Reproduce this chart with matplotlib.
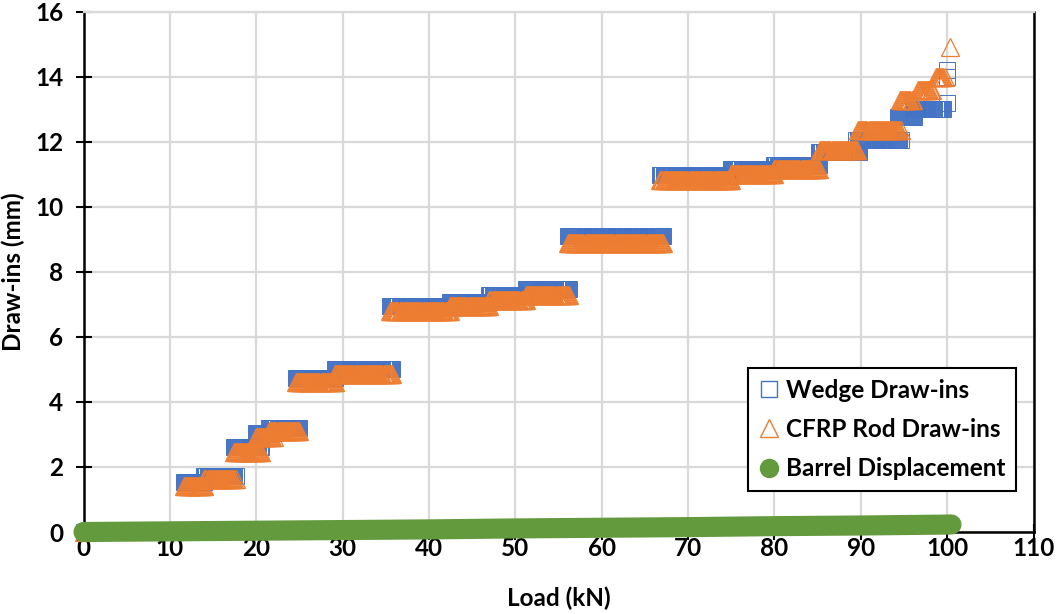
import numpy as np
import matplotlib
matplotlib.use("Agg")
import matplotlib.pyplot as plt
from matplotlib.lines import Line2D

plt.rcParams['font.family'] = ['Lato', 'DejaVu Sans']
plt.rcParams['font.weight'] = 'bold'

# step plateaus: load start (kN), load end (kN), draw-in (mm)
wedge_start = [0.0, 11.6, 14.0, 17.4, 20.0, 21.5, 24.6, 29.1, 35.5, 42.4, 47.0, 51.2,
               56.1, 66.8, 75.0, 80.0, 85.2, 89.5, 94.3, 96.0, 100.0, 100.0, 100.0]
wedge_end = [0.0, 14.0, 17.6, 20.5, 22.0, 25.0, 29.1, 35.7, 42.4, 47.0, 51.2, 56.2,
             67.1, 75.0, 80.0, 85.2, 89.8, 94.6, 96.2, 99.5, 100.0, 100.0, 100.0]
wedge_level = [0.0, 1.55, 1.72, 2.6, 3.05, 3.2, 4.74, 5.0, 6.95, 7.08, 7.3, 7.48,
               9.1, 10.98, 11.17, 11.3, 11.7, 12.05, 12.75, 13.0, 13.2, 14.0, 14.2]

rod_start = [0.0, 11.6, 14.0, 17.4, 20.0, 21.5, 24.6, 29.1, 35.5, 42.4, 47.0, 51.2,
             56.1, 66.8, 75.0, 80.0, 85.3, 89.7, 94.5, 96.6, 98.7, 100.3]
rod_end = [0.0, 14.0, 17.6, 20.6, 22.0, 25.0, 29.1, 35.7, 42.4, 47.0, 51.2, 56.2,
           67.1, 75.0, 80.0, 85.2, 89.6, 94.6, 96.0, 98.2, 99.7, 100.3]
rod_level = [0.0, 1.42, 1.62, 2.45, 2.92, 3.1, 4.6, 4.85, 6.8, 6.95, 7.12, 7.3,
             8.9, 10.82, 11.0, 11.15, 11.75, 12.35, 13.3, 13.6, 14.0, 14.9]

barrel_load = [0, 10, 20, 30, 40, 50, 60, 70, 80, 90, 100.5]
barrel_disp = [0.0, 0.02, 0.04, 0.06, 0.08, 0.11, 0.13, 0.15, 0.18, 0.2, 0.23]

BLUE = '#4472c4'
ORANGE = '#ed7d31'
GREEN = '#639a3e'
FS = 17.5


def step_points(starts, ends, levels, spacing=0.12):
    """Markers along each plateau, like the logged readings."""
    xs, ys = [], []
    for a, b, v in zip(starts, ends, levels):
        n = max(int(round((b - a) / spacing)) + 1, 1)
        xs.append(np.linspace(a, b, n))
        ys.append(np.full(n, v))
    return np.concatenate(xs), np.concatenate(ys)


fig = plt.figure(figsize=(10.56, 6.14), dpi=100)
ax = fig.add_axes([83.5 / 1056, 82 / 614, 950 / 1056, 520.3 / 614])

wx, wy = step_points(wedge_start, wedge_end, wedge_level)
rx, ry = step_points(rod_start, rod_end, rod_level)

ax.plot(wx, wy, ls='none', marker='s', ms=11.5, mfc='none', mec=BLUE, mew=0.7,
        zorder=3, clip_on=False)
ax.plot(rx, ry, ls='none', marker='^', ms=13.5, mfc='none', mec=ORANGE, mew=0.9,
        zorder=4, clip_on=False)
ax.plot(barrel_load, barrel_disp, color=GREEN, lw=14.5, solid_capstyle='round',
        zorder=5, clip_on=False)

ax.set_xlim(0, 110)
ax.set_ylim(0, 16)
ax.set_xticks(np.arange(0, 111, 10))
ax.set_yticks(np.arange(0, 17, 2))
ax.grid(True, color='#d9d9d9', lw=1.6, zorder=0)
ax.set_axisbelow(True)

for side in ['left', 'bottom', 'right']:
    ax.spines[side].set_color('black')
    ax.spines[side].set_linewidth(1.8)
ax.spines['top'].set_color('#d9d9d9')
ax.spines['top'].set_linewidth(1.6)

ax.tick_params(axis='both', direction='inout', length=11, width=1.5, labelsize=FS)
ax.tick_params(axis='y', pad=9)
ax.tick_params(axis='x', pad=-2)

ax.set_xlabel('Load (kN)', fontsize=FS, fontweight='bold', labelpad=19)
ax.set_ylabel('Draw-ins (mm)', fontsize=FS, fontweight='bold', labelpad=7)

handles = [
    Line2D([], [], ls='none', marker='s', ms=12, mfc='none', mec=BLUE, mew=1),
    Line2D([], [], ls='none', marker='^', ms=13, mfc='none', mec=ORANGE, mew=1),
    Line2D([], [], ls='none', marker='o', ms=13, mfc=GREEN, mec=GREEN),
]
labels = ['Wedge Draw-ins', 'CFRP Rod Draw-ins', 'Barrel Displacement']
leg = ax.legend(handles, labels, loc='upper left', bbox_to_anchor=(0.6995, 0.3152),
                fontsize=FS, frameon=True, fancybox=False, framealpha=1,
                edgecolor='black', borderaxespad=0, handlelength=0.8,
                handletextpad=0.3, labelspacing=0.66, borderpad=0.45)
leg.get_frame().set_linewidth(1.5)
leg.set_zorder(10)

fig.savefig('out.png', dpi=100)
